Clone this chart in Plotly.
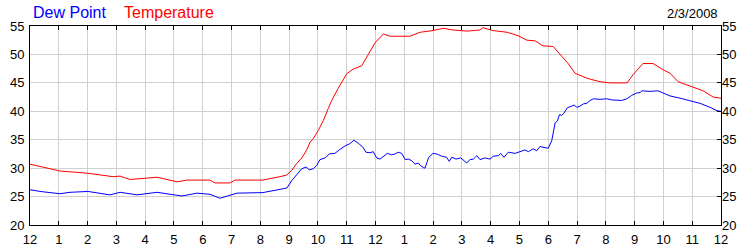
import plotly.graph_objects as go

# Temperature (red), hours since midnight
temp_hours = [0.00, 0.35, 1.04, 2.01, 2.88, 3.13, 3.47, 4.41, 5.11, 5.45, 6.25, 6.43, 6.95, 7.12,
              8.09, 8.68, 8.92, 9.09, 9.26, 9.44, 9.61, 9.73, 9.84, 10.01, 10.19, 10.36, 10.48,
              10.70, 11.00, 11.22, 11.52, 11.74, 11.98, 12.27, 12.50, 12.85, 13.20, 13.55, 14.00,
              14.35, 14.69, 15.18, 15.63, 15.73, 16.08, 16.57, 16.95, 17.26, 17.54, 17.82, 18.17,
              18.48, 18.69, 18.93, 19.35, 19.80, 20.15, 20.74, 20.94, 21.29, 21.64, 21.99, 22.23,
              22.51, 22.93, 23.38, 23.73, 24.00]
temp_values = [30.7, 30.25, 29.5, 29.1, 28.5, 28.6, 28.0, 28.4, 27.6, 27.9, 27.9, 27.4, 27.4, 27.9,
               27.9, 28.5, 28.8, 29.6, 30.8, 31.8, 33.2, 34.6, 35.2, 36.6, 38.4, 40.5, 41.9,
               44.0, 46.6, 47.4, 48.0, 49.9, 52.0, 53.6, 53.2, 53.2, 53.2, 53.9, 54.2,
               54.6, 54.3, 54.1, 54.3, 54.7, 54.2, 53.9, 53.3, 52.5, 52.4, 51.5, 51.4,
               49.6, 48.4, 46.7, 45.8, 45.2, 45.0, 45.0, 46.4, 48.4, 48.4, 47.3, 46.7,
               45.2, 44.4, 43.6, 42.5, 42.3]

# Dew point (blue)
dew_hours = [0.00, 0.35, 1.04, 1.39, 2.01, 2.78, 3.13, 3.72, 4.41, 5.28, 5.80, 6.25, 6.60, 7.19,
             8.09, 8.68, 8.92, 9.09, 9.26, 9.44, 9.59, 9.70, 9.84, 9.96, 10.07, 10.25, 10.40,
             10.59, 10.74, 10.94, 11.11, 11.25, 11.40, 11.56, 11.67, 11.81, 11.92, 12.04, 12.16,
             12.27, 12.41, 12.56, 12.68, 12.79, 12.91, 13.03, 13.14, 13.26, 13.37, 13.49, 13.55,
             13.66, 13.72, 13.84, 13.99, 14.13, 14.30, 14.47, 14.56, 14.65, 14.80, 14.96, 15.07,
             15.17, 15.28, 15.40, 15.52, 15.63, 15.80, 15.98, 16.09, 16.27, 16.35, 16.46, 16.61,
             16.85, 17.02, 17.19, 17.31, 17.48, 17.60, 17.71, 17.89, 18.00, 18.12, 18.24, 18.32,
             18.39, 18.47, 18.55, 18.66, 18.82, 18.90, 18.99, 19.10, 19.22, 19.34, 19.45, 19.57,
             19.80, 20.03, 20.20, 20.38, 20.55, 20.73, 20.90, 21.07, 21.19, 21.26, 21.54, 21.81,
             22.23, 22.58, 22.93, 23.27, 23.62, 23.86, 24.00]
dew_values = [26.2, 25.9, 25.5, 25.75, 25.9, 25.3, 25.75, 25.3, 25.75, 25.1, 25.6, 25.4, 24.7, 25.6,
              25.7, 26.2, 26.5, 27.8, 28.9, 29.9, 30.2, 29.7, 29.9, 30.5, 31.5, 31.8, 32.5,
              32.6, 33.2, 33.9, 34.3, 34.9, 34.4, 33.7, 32.8, 32.7, 32.9, 31.8, 31.6,
              32.1, 32.6, 32.35, 32.5, 32.8, 32.6, 31.5, 31.6, 31.3, 30.7, 30.9, 30.5,
              30.1, 30.0, 31.8, 32.6, 32.5, 32.1, 31.9, 31.2, 31.9, 31.6, 31.8, 31.3,
              30.9, 31.5, 31.6, 32.2, 31.5, 31.8, 31.6, 32.1, 32.2, 32.6, 31.9, 32.8,
              32.6, 32.9, 33.2, 32.9, 33.4, 33.06, 33.8, 33.6, 33.5, 34.8, 38.0, 38.3,
              39.4, 39.3, 39.7, 40.6, 40.9, 41.1, 40.7, 40.9, 41.3, 41.4, 41.9, 42.2,
              42.1, 42.2, 42.0, 41.9, 41.9, 42.2, 42.8, 43.2, 43.3, 43.6, 43.5, 43.6,
              42.7, 42.3, 41.8, 41.4, 40.7, 40.1, 40.0]

x_tick_values = list(range(25))
x_tick_labels = ["12", "1", "2", "3", "4", "5", "6", "7", "8", "9", "10", "11",
                 "12", "1", "2", "3", "4", "5", "6", "7", "8", "9", "10", "11", "12"]
y_tick_values = [20, 25, 30, 35, 40, 45, 50, 55]

FONT = "Liberation Sans, Arial, sans-serif"
GRID = "#d0d0d0"

fig = go.Figure()
fig.add_trace(go.Scatter(x=dew_hours, y=dew_values, mode="lines", name="Dew Point",
                         line=dict(color="#0000FF", width=1)))
fig.add_trace(go.Scatter(x=temp_hours, y=temp_values, mode="lines", name="Temperature",
                         line=dict(color="#FF0000", width=1)))
fig.add_trace(go.Scatter(x=[0], y=[20], mode="lines", yaxis="y2", showlegend=False,
                         hoverinfo="skip", line=dict(width=0)))

fig.update_layout(
    width=750, height=250,
    margin=dict(l=30, r=29, t=26, b=25),
    paper_bgcolor="white", plot_bgcolor="white",
    showlegend=False,
    font=dict(family=FONT, size=13, color="black"),
    xaxis=dict(range=[0, 24], tickmode="array", tickvals=x_tick_values, ticktext=x_tick_labels,
               showgrid=True, gridcolor=GRID, gridwidth=1, zeroline=False,
               showline=True, linecolor="black", linewidth=1, mirror="ticks",
               ticks="inside", ticklen=4, tickcolor="black", tickwidth=1,
               ticklabelstandoff=2, automargin=False,
               tickfont=dict(family=FONT, size=13, color="black")),
    yaxis=dict(range=[20, 55], tickmode="array", tickvals=y_tick_values,
               showgrid=True, gridcolor=GRID, gridwidth=1, zeroline=False,
               showline=True, linecolor="black", linewidth=1, mirror=True,
               ticks="", ticklabelstandoff=2, automargin=False,
               tickfont=dict(family=FONT, size=13, color="black")),
    yaxis2=dict(range=[20, 55], tickmode="array", tickvals=y_tick_values, overlaying="y",
                side="right", showgrid=False, zeroline=False, showline=False,
                ticks="inside", ticklen=4, tickcolor="black", automargin=False,
                tickfont=dict(family=FONT, size=13, color="black")),
    annotations=[
        dict(text="Dew Point", xref="paper", yref="paper", x=0.002, y=1.07,
             xanchor="left", yanchor="middle", showarrow=False,
             font=dict(family=FONT, size=16, color="#0000FF")),
        dict(text="Temperature", xref="paper", yref="paper", x=0.133, y=1.07,
             xanchor="left", yanchor="middle", showarrow=False,
             font=dict(family=FONT, size=16, color="#FF0000")),
        dict(text="2/3/2008", xref="paper", yref="paper", x=0.998, y=1.065,
             xanchor="right", yanchor="middle", showarrow=False,
             font=dict(family=FONT, size=13, color="black")),
    ],
)

fig.write_html("out.html")
